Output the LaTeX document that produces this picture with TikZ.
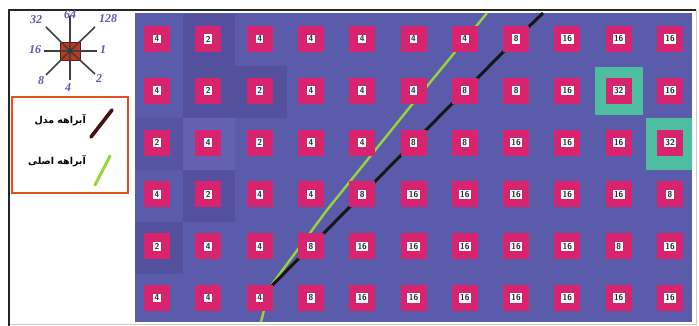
\documentclass[tikz,border=0pt]{standalone}
\usepackage{fontspec}
\setmainfont{Liberation Serif}
\newfontfamily\arabicfont[Script=Arabic]{DejaVu Sans}
\TeXXeTstate=1
\definecolor{gridbg}{HTML}{5B5BAB}
\definecolor{griddk}{HTML}{53509E}
\definecolor{gridlt}{HTML}{6362B1}
\definecolor{pinkc}{HTML}{D8246E}
\definecolor{tealc}{HTML}{4DBFA0}
\definecolor{greenc}{HTML}{98D43C}
\definecolor{modelc}{HTML}{161616}
\definecolor{compc}{HTML}{6B4FB5}
\definecolor{redc}{HTML}{C4381F}
\definecolor{legc}{HTML}{E0501E}
\pgfdeclarelayer{back}
\pgfdeclarelayer{bg}
\pgfdeclarelayer{ln}
\pgfsetlayers{back,bg,ln,main}
\newcommand{\cellnum}[1]{{\setlength\fboxsep{1.5pt}\colorbox{white}{#1}}}
\tikzset{
  cellbox/.style={fill=pinkc, minimum size=26pt, inner sep=0pt,
    font=\sffamily\bfseries\fontsize{8.5}{8.5}\selectfont, text=black!85},
  spoke/.style={draw=black!75, line width=1.6pt},
  complab/.style={text=compc, font=\itshape\bfseries\fontsize{12}{12}\selectfont, inner sep=0pt},
  legtext/.style={font=\arabicfont\bfseries\fontsize{9.5}{11}\selectfont, inner sep=0pt, anchor=east},
}
\begin{document}
\begin{tikzpicture}[x=1pt,y=-1pt]
\useasboundingbox (0,0) rectangle (699,326);
\begin{pgfonlayer}{back}
\fill[white] (0,0) rectangle (699,326);
\end{pgfonlayer}
% frame
\draw[black!20, line width=0.8pt] (9,324) -- (696,324) -- (696,10);
\draw[black!85, line width=2pt] (9,326) -- (9,10) -- (696,10);
% grid background
\begin{pgfonlayer}{bg}
\fill[gridbg] (135,13) rectangle (692,322);
\fill[griddk] (183,14) rectangle (235,118);
\fill[griddk] (235,66) rectangle (287,118);
\fill[gridlt] (183,118) rectangle (235,170);
\fill[griddk!60!gridbg] (135,118) rectangle (183,170);
\fill[griddk] (183,170) rectangle (235,222);
\fill[griddk] (135,222) rectangle (183,274);
\end{pgfonlayer}
% cells
\foreach \row [count=\i] in {
  {4,2,4,4,4,4,4,8,16,16,16},
  {4,2,2,4,4,4,8,8,16,32,16},
  {2,4,2,4,4,8,8,16,16,16,32},
  {4,2,4,4,8,16,16,16,16,16,8},
  {2,4,4,8,16,16,16,16,16,8,16},
  {4,4,4,8,16,16,16,16,16,16,16}} {
  \foreach \v [count=\j] in \row {
    \node[cellbox] (c-\i-\j) at ({157+51.3*(\j-1)},{39+51.8*(\i-1)}) {\cellnum{\v}};
  }
}
% highlighted cells
\begin{pgfonlayer}{bg}
\begin{scope}
\clip (135,13) rectangle (692,322);
\fill[tealc] ([shift={(-24,-24)}]c-2-10.center) rectangle ([shift={(24,24)}]c-2-10.center);
\fill[tealc] ([shift={(-24,-25)}]c-3-11.center) rectangle ([shift={(24,27)}]c-3-11.center);
\end{scope}
\end{pgfonlayer}
% channels
\coordinate (kt) at (543,13);
\coordinate (g1) at (487,13);
\coordinate (g2) at (410,107);
\coordinate (g3) at (327,210);
\coordinate (g4) at (270,287);
\coordinate (g5) at (261,322);
\begin{pgfonlayer}{ln}
\draw[greenc, line width=2.4pt, line join=round] (g1) -- (g2) -- (g3) -- (g4) -- (g5);
\draw[modelc, line width=3pt, line join=round] (kt) -- (c-1-8.center) -- (c-2-7.center) -- (c-3-6.center) -- (c-4-5.center) -- (c-5-4.center) -- (c-6-3.center);
\end{pgfonlayer}
% compass
\coordinate (cc) at (70,51);
\coordinate (dE) at (97,51);
\coordinate (dW) at (44,51);
\coordinate (dN) at (70,16);
\coordinate (dS) at (70,80);
\coordinate (dNE) at (95,27);
\coordinate (dNW) at (46,27);
\coordinate (dSE) at (95,74);
\coordinate (dSW) at (46,75);
\node[fill=redc, draw=redc!50!black, minimum width=20pt, minimum height=18pt, inner sep=0pt] (sq) at (cc) {};
\foreach \d in {dE,dW,dN,dS,dNE,dNW,dSE,dSW} \draw[spoke] (cc) -- (\d);
\fill[black!80] (cc) circle (2pt);
\node[complab] (l32) at (36,20) {32};
\node[complab] (l64) at (70,15) {64};
\node[complab] (l128) at (108,19) {128};
\node[complab] (l16) at (35,50) {16};
\node[complab] (l1) at (103,50) {1};
\node[complab] (l8) at (41,81) {8};
\node[complab] (l4) at (68,88) {4};
\node[complab] (l2) at (99,79) {2};
% legend
\draw[legc, line width=1.6pt] (12,97) rectangle (128,193);
\node[legtext] (t1) at (86,120) {\beginR آبراهه مدل\endR};
\node[legtext] (t2) at (86,161) {\beginR آبراهه اصلی\endR};
\coordinate (m1) at (91,137);
\coordinate (m2) at (112,110);
\coordinate (n1) at (95,185);
\coordinate (n2) at (110,156);
\draw[modelc!80!red, line width=3.6pt, line cap=round] (m1) -- (m2);
\draw[greenc, line width=3pt, line cap=round] (n1) -- (n2);
\end{tikzpicture}
\end{document}
